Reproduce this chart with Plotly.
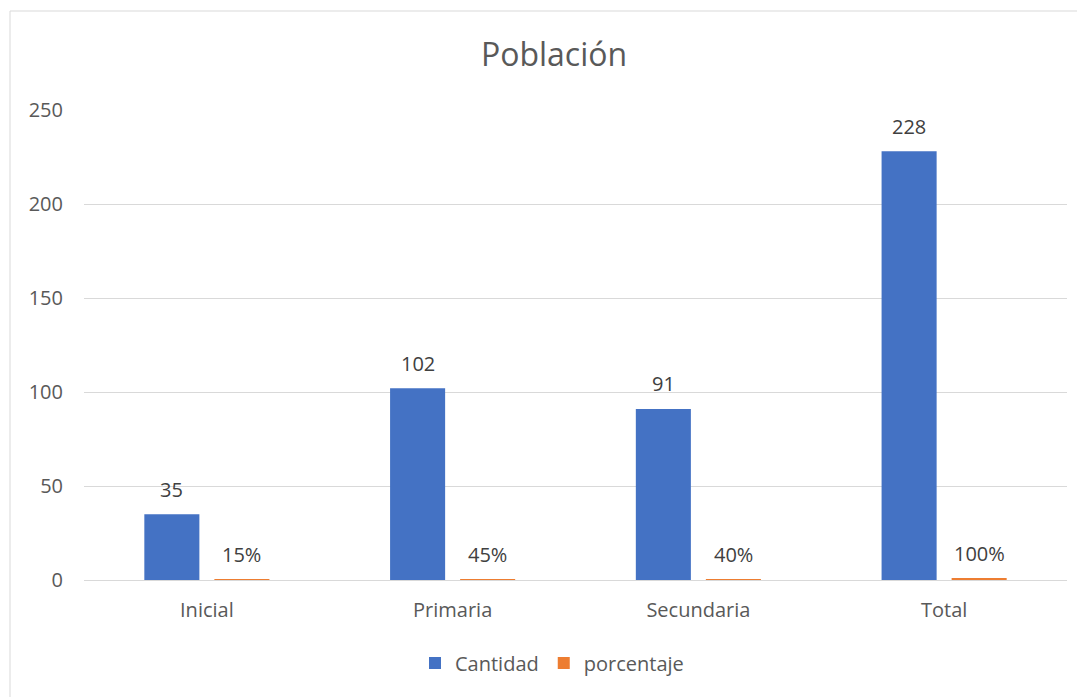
import plotly.graph_objects as go

categories = ["Inicial", "Primaria", "Secundaria", "Total"]
cantidad = [35, 102, 91, 228]
porcentaje = [0.15, 0.45, 0.40, 1.00]
porcentaje_labels = ["15%", "45%", "40%", "100%"]
y_ticks = [0, 50, 100, 150, 200, 250]

# the page body adds an 8px offset; layout numbers below are in figure coords
OFF = 8
W, H = 1085, 697
ML, MR, MT, MB = 84 - OFF, 26, 110 - OFF, 125
PW = W - ML - MR
PH = H - MT - MB

FONT = "Open Sans"
GRAY = "#595959"

fig = go.Figure()
fig.add_trace(go.Bar(x=categories, y=cantidad, name="Cantidad",
                     marker=dict(color="#4472C4", line=dict(width=0))))
fig.add_trace(go.Bar(x=categories, y=porcentaje, name="porcentaje",
                     marker=dict(color="#ED7D31", line=dict(width=0))))

annotations = []
for c, v in zip(categories, cantidad):
    annotations.append(dict(x=c, y=v, text=str(v), showarrow=False, xref="x", yref="y",
                            xshift=-35, yshift=25, yanchor="middle",
                            font=dict(family=FONT, size=20, color="#404040")))
for c, v, t in zip(categories, porcentaje, porcentaje_labels):
    annotations.append(dict(x=c, y=v, text=t, showarrow=False, xref="x", yref="y",
                            xshift=35, yshift=25, yanchor="middle",
                            font=dict(family=FONT, size=20, color="#404040")))

fig.update_layout(
    width=W, height=H,
    margin=dict(l=ML, r=MR, t=MT, b=MB),
    paper_bgcolor="white", plot_bgcolor="white",
    barmode="group", bargap=0.43, bargroupgap=0.214,
    title=dict(text="Población", x=(554 - OFF) / W, xref="container", xanchor="center",
               y=1 - (55 - OFF) / H, yref="container", yanchor="middle",
               font=dict(family=FONT, size=32, color=GRAY)),
    xaxis=dict(showgrid=False, showline=False, zeroline=False, ticks="",
               tickfont=dict(family=FONT, size=20, color=GRAY), ticklabelstandoff=16),
    yaxis=dict(range=[0, 250], tickvals=y_ticks, showgrid=True, gridcolor="#d9d9d9",
               gridwidth=1, zeroline=True, zerolinecolor="#d9d9d9", zerolinewidth=1,
               showline=False, ticks="", ticklabelstandoff=20,
               tickfont=dict(family=FONT, size=20, color=GRAY)),
    legend=dict(orientation="h", x=(544 - ML) / PW, xanchor="center",
                y=(MT + PH - (663 - OFF)) / PH, yanchor="middle",
                font=dict(family=FONT, size=20, color=GRAY)),
    annotations=annotations,
    shapes=[dict(type="rect", xref="paper", yref="paper",
                 x0=(10 - OFF - ML) / PW, x1=(1100 - ML) / PW,
                 y0=(MT + PH - 720) / PH, y1=(MT + PH - (11 - OFF)) / PH,
                 line=dict(color="#d9d9d9", width=1), fillcolor="rgba(0,0,0,0)",
                 layer="below")],
)

fig.write_html("out.html")
